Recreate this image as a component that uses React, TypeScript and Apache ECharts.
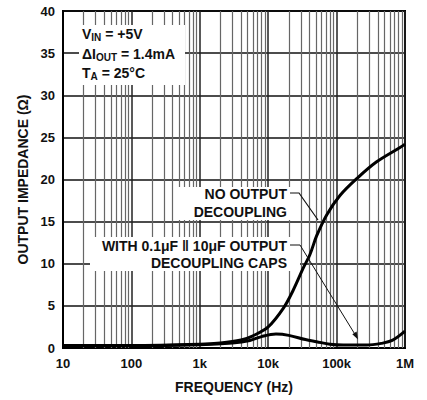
import React, { useEffect, useRef } from "react";
import * as echarts from "echarts";

// Axis ticks
const freqTicks = [10, 100, 1000, 10000, 100000, 1000000];
const freqTickLabels = ["10", "100", "1k", "10k", "100k", "1M"];
const decades = [10, 100, 1000, 10000, 100000];
const minorMultipliers = [2, 3, 4, 5, 6, 7, 8, 9];

// No output decoupling curve (Hz, ohm)
const noDecFreq = [10, 100, 1000, 2000, 4000, 6000, 10000, 16600, 23000, 32600, 40800, 51000, 71600, 112000, 197000, 385000, 845000, 1000000];
const noDecZ = [0.3, 0.3, 0.45, 0.6, 0.95, 1.45, 2.5, 4.7, 6.8, 9.5, 11.1, 13.3, 15.8, 18.1, 20.1, 22.1, 23.8, 24.2];

// With 0.1uF || 10uF output decoupling caps (Hz, ohm)
const capsFreq = [10, 100, 1000, 3000, 5400, 8000, 13000, 20000, 35000, 51000, 80000, 125000, 275000, 450000, 650000, 1000000];
const capsZ = [0.3, 0.3, 0.4, 0.6, 0.9, 1.35, 1.65, 1.5, 1.0, 0.75, 0.45, 0.35, 0.35, 0.55, 0.9, 2.0];

const FONT = "Liberation Sans, Arial, sans-serif";

export default function App() {
  const ref = useRef<HTMLDivElement>(null);
  useEffect(() => {
    if (!ref.current) return;
    const chart = echarts.init(ref.current, undefined, { renderer: "svg" });
    const minorLines = decades.flatMap((d) => minorMultipliers.map((m) => ({ xAxis: d * m })));
    const noDec = noDecFreq.map((f, i) => [f, noDecZ[i]]);
    const caps = capsFreq.map((f, i) => [f, capsZ[i]]);
    const txt = (x: number, y: number, text: string, align: string = "right") => ({
      type: "text",
      x,
      y,
      z: 51,
      style: {
        text,
        fill: "#111",
        font: `bold 14px ${FONT}`,
        textAlign: align,
        textVerticalAlign: "middle",
      },
    });
    const rich = {
      a: { fontSize: 14, fontWeight: "bold", fontFamily: FONT, color: "#111" },
      s: { fontSize: 10, fontWeight: "bold", fontFamily: FONT, color: "#111", padding: [7, 0, 0, 0] },
    };
    const richTxt = (x: number, y: number, text: string) => ({
      type: "text",
      x,
      y,
      z: 51,
      style: { text, rich, textAlign: "left", textVerticalAlign: "middle", fill: "#111" },
    });
    const whiteRect = (x: number, y: number, w: number, h: number) => ({
      type: "rect",
      z: 50,
      shape: { x, y, width: w, height: h },
      style: { fill: "#fff" },
      silent: true,
    });
    chart.setOption({
      animation: false,
      backgroundColor: "#fff",
      grid: { left: 63, right: 22, top: 11, bottom: 52, show: true, borderColor: "#000", borderWidth: 2 },
      xAxis: {
        type: "log",
        logBase: 10,
        min: 10,
        max: 1000000,
        name: "FREQUENCY (Hz)",
        nameLocation: "middle",
        nameGap: 32,
        nameTextStyle: { fontFamily: FONT, fontWeight: "bold", fontSize: 14, color: "#111" },
        axisLine: { show: true, lineStyle: { color: "#000", width: 2 } },
        axisTick: { show: false },
        axisLabel: {
          fontFamily: FONT,
          fontWeight: "bold",
          fontSize: 13,
          color: "#111",
          margin: 9,
          formatter: (v: number) => {
            const i = freqTicks.findIndex((t) => Math.abs(t - v) / t < 1e-6);
            return i >= 0 ? freqTickLabels[i] : "";
          },
        },
        splitLine: { show: true, lineStyle: { color: "#222", width: 1.5 } },
      },
      yAxis: {
        type: "value",
        min: 0,
        max: 40,
        interval: 5,
        name: "OUTPUT IMPEDANCE (Ω)",
        nameLocation: "middle",
        nameGap: 33,
        nameTextStyle: { fontFamily: FONT, fontWeight: "bold", fontSize: 14, color: "#111" },
        axisLine: { show: true, lineStyle: { color: "#000", width: 2 } },
        axisTick: { show: false },
        axisLabel: { fontFamily: FONT, fontWeight: "bold", fontSize: 13, color: "#111", margin: 8 },
        splitLine: { show: true, lineStyle: { color: "#111", width: 1.5 } },
      },
      series: [
        {
          type: "line",
          data: [],
          z: 1,
          silent: true,
          markLine: {
            silent: true,
            symbol: ["none", "none"],
            label: { show: false },
            lineStyle: { type: "solid", color: "#666", width: 1.2 },
            data: minorLines,
          },
        },
        {
          type: "line",
          data: noDec,
          smooth: 0.35,
          showSymbol: false,
          z: 5,
          lineStyle: { color: "#000", width: 3 },
        },
        {
          type: "line",
          data: caps,
          smooth: 0.35,
          showSymbol: false,
          z: 5,
          lineStyle: { color: "#000", width: 3 },
        },
      ],
      graphic: [
        whiteRect(79, 25, 106, 60),
        whiteRect(178, 187, 122, 33),
        whiteRect(90, 237, 210, 34),
        richTxt(82, 34, "{a|V}{s|IN}{a| = +5V}"),
        richTxt(82, 54, "{a|ΔI}{s|OUT}{a| = 1.4mA}"),
        richTxt(82, 73, "{a|T}{s|A}{a| = 25°C}"),
        txt(287, 194, "NO OUTPUT"),
        txt(287, 212, "DECOUPLING"),
        txt(287, 246, "WITH 0.1μF ‖ 10μF OUTPUT"),
        txt(287, 263, "DECOUPLING CAPS"),
        {
          type: "polyline",
          z: 52,
          shape: { points: [[290, 193], [299, 193], [318, 220]] },
          style: { stroke: "#111", lineWidth: 1.2, fill: null },
        },
        {
          type: "polyline",
          z: 52,
          shape: { points: [[290, 245], [300, 245], [356, 336]] },
          style: { stroke: "#111", lineWidth: 1, fill: null },
        },
        {
          type: "polygon",
          z: 52,
          shape: { points: [[358, 339.5], [352.3, 334.3], [356.6, 331.6]] },
          style: { fill: "#111" },
        },
      ],
    });
    return () => chart.dispose();
  }, []);
  return (
    <div
      ref={ref}
      style={{ position: "fixed", left: 0, top: 0, width: 427, height: 400, background: "#fff" }}
    />
  );
}
